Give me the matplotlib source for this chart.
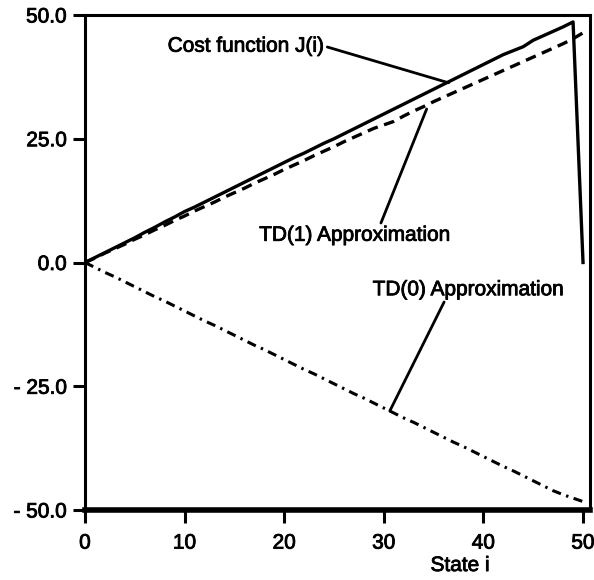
import matplotlib.pyplot as plt
import matplotlib.patheffects as pe
from matplotlib.ticker import FixedLocator

plt.rcParams['font.family'] = ['Liberation Sans', 'DejaVu Sans']

# states 0..50
states = list(range(51))

# cost function J(i), terminal state 50 has zero cost
cost_j = [0, 1.0, 2.0, 3.0, 4.0, 5.0, 6.1, 7.1, 8.2, 9.2, 10.3, 11.2, 12.2, 13.2,
          14.2, 15.2, 16.2, 17.2, 18.2, 19.2, 20.2, 21.2, 22.1, 23.1, 24.1, 25.0,
          26.0, 27.0, 28.0, 29.0, 30.0, 31.0, 32.0, 33.0, 34.0, 35.0, 36.0, 37.0,
          38.0, 39.0, 40.0, 41.0, 42.0, 42.8, 43.6, 44.9, 45.8, 46.7, 47.6, 48.6, 0.0]

# TD(1) approximation
td1 = [0, 0.9, 1.9, 2.8, 3.7, 4.7, 5.6, 6.6, 7.5, 8.5, 9.4, 10.4, 11.3, 12.2,
       13.2, 14.1, 15.0, 16.0, 16.9, 17.8, 18.8, 19.7, 20.6, 21.6, 22.5, 23.4,
       24.4, 25.3, 26.2, 27.1, 27.8, 28.5, 29.6, 30.6, 31.5, 32.5, 33.4, 34.3,
       35.2, 36.1, 37.0, 37.9, 38.8, 39.7, 40.6, 41.5, 42.4, 43.3, 44.2, 45.2, 46.4]

# TD(0) approximation
td0 = [0, -1.0, -2.0, -2.9, -3.9, -4.9, -5.9, -6.9, -7.8, -8.8, -9.8, -10.8,
       -11.8, -12.7, -13.7, -14.7, -15.7, -16.7, -17.6, -18.6, -19.6, -20.6,
       -21.6, -22.5, -23.5, -24.5, -25.5, -26.5, -27.4, -28.4, -29.4, -30.4,
       -31.4, -32.3, -33.3, -34.3, -35.3, -36.3, -37.2, -38.2, -39.2, -40.2,
       -41.2, -42.1, -43.1, -44.1, -45.1, -46.1, -46.9, -47.6, -48.3]

xticks = [0, 10, 20, 30, 40, 50]
yticks = [-50, -25, 0, 25, 50]
ytick_labels = ['- 50.0', '- 25.0', '0.0', '25.0', '50.0']

# scanned print looks heavy, thicken the glyphs a bit
heavy = [pe.withStroke(linewidth=0.6, foreground='black')]

fig = plt.figure(figsize=(5.94, 5.80), dpi=100)
ax = fig.add_axes([85 / 594, 70 / 580, 505 / 594, 495 / 580])

ax.plot(states, cost_j, color='black', lw=2.4, solid_joinstyle='round')
ax.plot(states, td1, color='black', lw=2.4, dashes=(3.2, 2.0))
ax.plot(states, td0, color='black', lw=2.2, dashes=(3.0, 1.8, 0.8, 1.8))

ax.set_xlim(0, 50.7)
ax.set_ylim(-50, 50)
ax.xaxis.set_major_locator(FixedLocator(xticks))
ax.yaxis.set_major_locator(FixedLocator(yticks))
ax.set_yticklabels(ytick_labels)

for side in ['top', 'right', 'left']:
    ax.spines[side].set_linewidth(2.2)
ax.spines['bottom'].set_linewidth(4)
ax.tick_params(axis='both', direction='out', length=9, width=2.2,
               labelsize=15, colors='black')
ax.tick_params(axis='x', pad=8)
ax.tick_params(axis='y', pad=4)
for lab in ax.get_xticklabels() + ax.get_yticklabels():
    lab.set_path_effects(heavy)

ax.set_xlabel('State i', fontsize=15, path_effects=heavy)
ax.xaxis.set_label_coords(0.743, -0.093)

line = dict(arrowstyle='-', lw=2.0, color='black', shrinkA=0, shrinkB=0)
ax.annotate('Cost function J(i)', xy=(36.5, 36.3), xytext=(8.3, 43.7),
            fontsize=15, ha='left', va='center', path_effects=heavy,
            arrowprops=dict(line, relpos=(1, 0.5)))
ax.annotate('TD(1) Approximation', xy=(34.3, 31.0), xytext=(27.1, 5.5),
            fontsize=15, ha='center', va='center', path_effects=heavy,
            arrowprops=dict(line, relpos=(0.63, 1)))
ax.annotate('TD(0) Approximation', xy=(30.6, -30.0), xytext=(38.5, -5.5),
            fontsize=15, ha='center', va='center', path_effects=heavy,
            arrowprops=dict(line, relpos=(0.38, 0)))

fig.savefig('out.png', dpi=100)
